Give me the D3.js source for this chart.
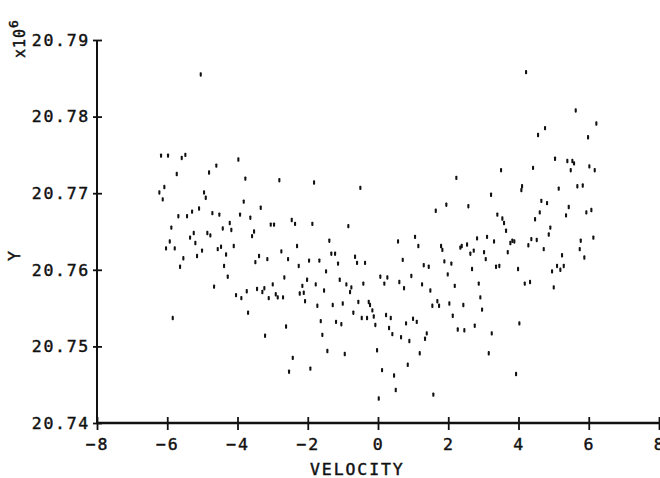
<!DOCTYPE html>
<html>
<head>
<meta charset="utf-8">
<script src="https://cdn.jsdelivr.net/npm/d3@7"></script>
<style>
  html, body { margin: 0; padding: 0; background: #fff; }
  svg { display: block; }
  text { font-family: "DejaVu Sans Mono", monospace; fill: #111; stroke: #111; stroke-width: 0.45px; }
</style>
</head>
<body>
<svg id="chart" width="660" height="478"></svg>
<script>
// ---- data (Y in units of 10^6) ----
const velocity = [
  -5.048,-6.178,-5.979,-5.589,-5.486,-3.977,-4.604,-4.811,-5.731,-3.778,-2.810,-1.822,-0.504,-6.084,-6.226,-4.954,-4.905,-6.130,-3.824,-3.340,
  -5.096,-5.685,-5.438,-5.295,-4.717,-4.518,-3.929,-3.636,-4.222,-4.177,-4.421,-3.055,-2.961,-2.457,-2.363,-1.870,-0.846,-5.885,-5.247,-5.352,
  -4.860,-4.774,-3.530,-3.587,-5.201,-5.930,-1.387,0.569,-6.036,-5.788,-4.108,-2.306,-4.564,-4.470,
  -5.543,-5.637,-5.153,-5.011,-4.327,-4.384,-4.279,-4.669,-5.845,-4.043,-3.892,-3.738,-3.701,-3.493,-3.388,-3.152,-2.753,-2.562,-2.668,-2.998,
  -3.445,-3.294,-3.237,-3.112,-2.912,-2.856,-2.705,-3.217,-2.619,-2.428,-2.534,-2.258,-1.964,-1.671,-1.330,-1.224,-1.139,-1.480,-2.021,-2.155,
  -2.229,-2.115,-2.078,-1.774,-1.537,-1.728,-1.631,-1.586,-1.443,-1.927,-1.090,-1.290,-1.005,-1.196,-1.045,-0.948,-0.902,-0.797,-0.760,-0.655,
  -0.598,-0.370,-0.419,-0.561,-0.703,-0.464,-0.313,-0.265,-0.228,-0.162,-0.122,-0.077,-0.028,0.114,0.020,0.065,0.265,0.179,0.228,0.362,
  0.313,0.407,0.456,0.504,0.606,0.703,0.740,0.655,
  1.147,1.794,1.831,2.343,2.383,2.534,2.628,2.725,3.018,3.066,3.693,4.279,4.717,5.742,5.873,5.238,1.301,1.443,1.888,2.087,
  0.948,1.253,1.489,1.984,2.184,2.676,3.359,3.453,3.986,2.867,4.177,4.327,4.954,5.096,5.190,5.287,5.002,1.546,1.688,1.737,
  2.030,2.428,2.912,2.961,2.127,0.797,0.996,1.102,0.891,1.387,1.338,1.187,0.846,2.269,2.457,2.753,3.237,3.152,4.023,3.929,1.574,
  4.214,5.628,6.215,4.754,4.555,5.979,5.039,5.389,5.532,5.580,5.486,6.016,6.169,3.502,4.413,2.229,4.100,4.080,5.144,5.674,
  5.828,3.217,1.643,1.944,2.571,4.649,4.811,4.604,5.429,5.352,5.930,6.073,3.396,3.539,3.587,4.470,4.905,3.644,4.860,1.053,
  2.819,3.103,3.302,3.767,3.824,3.880,4.364,4.518,5.771,6.130
];
const yValues = [
  20.7855,20.7749,20.7749,20.7746,20.7750,20.7744,20.7736,20.7727,20.7725,20.7719,20.7717,20.7714,20.7707,20.7708,20.7701,20.7701,20.7694,20.7692,20.7689,20.7681,
  20.7680,20.7670,20.7670,20.7676,20.7674,20.7672,20.7672,20.7668,20.7661,20.7652,20.7654,20.7659,20.7659,20.7665,20.7660,20.7660,20.7657,20.7655,20.7648,20.7642,
  20.7648,20.7645,20.7650,20.7644,20.7635,20.7637,20.7638,20.7637,20.7628,20.7628,20.7631,20.7631,20.7627,20.7630,
  20.7615,20.7604,20.7618,20.7625,20.7620,20.7605,20.7591,20.7578,20.7537,20.7567,20.7563,20.7572,20.7544,20.7610,20.7618,20.7614,20.7624,20.7614,20.7590,20.7581,
  20.7575,20.7571,20.7576,20.7563,20.7568,20.7564,20.7564,20.7514,20.7526,20.7485,20.7467,20.7605,20.7612,20.7612,20.7621,20.7621,20.7608,20.7598,20.7587,20.7579,
  20.7569,20.7570,20.7559,20.7581,20.7573,20.7553,20.7533,20.7515,20.7494,20.7471,20.7587,20.7554,20.7556,20.7532,20.7529,20.7490,20.7581,20.7571,20.7577,20.7617,
  20.7609,20.7609,20.7582,20.7558,20.7544,20.7537,20.7537,20.7558,20.7554,20.7547,20.7539,20.7528,20.7495,20.7469,20.7432,20.7591,20.7590,20.7582,20.7541,20.7537,
  20.7524,20.7516,20.7462,20.7443,20.7584,20.7613,20.7576,20.7512,
  20.7631,20.7631,20.7626,20.7629,20.7631,20.7633,20.7621,20.7625,20.7623,20.7614,20.7623,20.7632,20.7627,20.7627,20.7616,20.7619,20.7606,20.7604,20.7611,20.7608,
  20.7592,20.7581,20.7573,20.7594,20.7579,20.7601,20.7604,20.7605,20.7601,20.7582,20.7582,20.7584,20.7598,20.7605,20.7600,20.7605,20.7577,20.7553,20.7559,20.7553,
  20.7556,20.7554,20.7564,20.7548,20.7540,20.7530,20.7536,20.7532,20.7507,20.7517,20.7510,20.7491,20.7476,20.7522,20.7521,20.7527,20.7517,20.7491,20.7530,20.7464,20.7437,
  20.7858,20.7808,20.7791,20.7785,20.7776,20.7773,20.7745,20.7742,20.7742,20.7739,20.7730,20.7735,20.7730,20.7730,20.7733,20.7720,20.7709,20.7704,20.7706,20.7709,
  20.7710,20.7698,20.7677,20.7685,20.7683,20.7690,20.7687,20.7675,20.7682,20.7671,20.7675,20.7678,20.7672,20.7667,20.7661,20.7666,20.7655,20.7651,20.7646,20.7643,
  20.7641,20.7643,20.7637,20.7635,20.7638,20.7637,20.7640,20.7639,20.7638,20.7642
];
const xTicks = [-8, -6, -4, -2, 0, 2, 4, 6, 8];
const yTicks = [20.74, 20.75, 20.76, 20.77, 20.78, 20.79];
const xLabel = "VELOCITY";
const yLabel = "Y";

// ---- chart ----
const svg = d3.select("#chart");
const x = d3.scaleLinear().domain([-8, 8]).range([97, 659]);
const y = d3.scaleLinear().domain([20.74, 20.79]).range([423, 40]);

// points: short vertical dashes
const pts = velocity.map((v, i) => ({ v, y: yValues[i] }));
svg.append("g").selectAll("rect").data(pts).enter().append("rect")
  .attr("x", d => x(d.v) - 1)
  .attr("y", d => y(d.y) - 2.2)
  .attr("width", 2.1)
  .attr("height", 4.4)
  .attr("rx", 0.8)
  .attr("fill", "#111");

// y axis
const gy = svg.append("g").attr("transform", `translate(${x(-8)},0)`)
  .call(d3.axisLeft(y).tickValues(yTicks).tickFormat(d3.format(".2f")).tickSize(4).tickPadding(7));
gy.select(".domain").remove();
gy.selectAll(".tick line").attr("x1", -4).attr("x2", 5).attr("stroke", "#111").attr("stroke-width", 1.8);
gy.selectAll(".tick text")
  .attr("x", -7)
  .style("font-family", "DejaVu Sans Mono, monospace")
  .style("font-size", "16.5px")
  .style("letter-spacing", "1.7px")
  .attr("fill", "#111");

// x axis
const gx = svg.append("g").attr("transform", `translate(0,${y(20.74)})`)
  .call(d3.axisBottom(x).tickValues(xTicks).tickFormat(d3.format("d")).tickSize(7).tickPadding(8));
gx.select(".domain").remove();
gx.selectAll(".tick line").attr("y1", -6).attr("y2", 7).attr("stroke", "#111").attr("stroke-width", 1.8);
gx.selectAll(".tick text")
  .style("font-family", "DejaVu Sans Mono, monospace")
  .style("font-size", "16.5px")
  .style("letter-spacing", "1.7px")
  .attr("fill", "#111");

// axis lines
svg.append("line").attr("x1", x(-8)).attr("x2", x(-8)).attr("y1", y(20.79)).attr("y2", y(20.74))
  .attr("stroke", "#111").attr("stroke-width", 2);
svg.append("line").attr("x1", x(-8)).attr("x2", x(8)).attr("y1", y(20.74)).attr("y2", y(20.74))
  .attr("stroke", "#111").attr("stroke-width", 2.4);

// axis titles
svg.append("text").attr("x", 310).attr("y", 475)
  .style("font-size", "16.5px").style("letter-spacing", "1.9px")
  .text(xLabel);
svg.append("text").attr("transform", "translate(20,256) rotate(-90)")
  .attr("text-anchor", "middle")
  .style("font-size", "16.5px")
  .text(yLabel);

// exponent label x10^6
const ex = svg.append("text").attr("transform", "translate(25,58) rotate(-90)")
  .style("font-size", "15px").style("letter-spacing", "1px");
ex.append("tspan").text("x10");
ex.append("tspan").attr("dy", -7).style("font-size", "13px").text("6");
</script>
</body>
</html>
